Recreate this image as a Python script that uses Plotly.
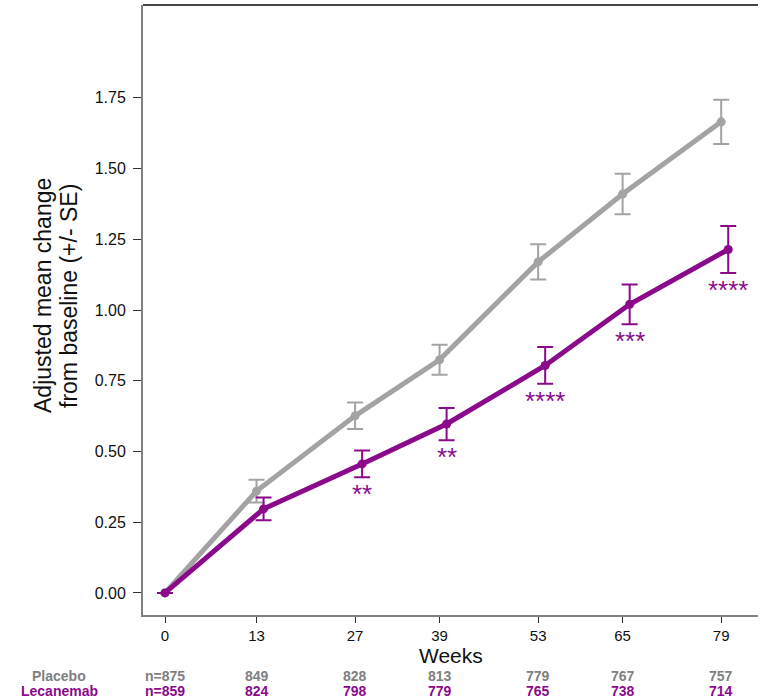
import plotly.graph_objects as go

# Study visits (weeks)
weeks = [0, 13, 27, 39, 53, 65, 79]

# Adjusted mean change from baseline and standard errors
placebo_mean = [0.0, 0.36, 0.626, 0.824, 1.17, 1.41, 1.665]
placebo_se = [0.0, 0.040, 0.047, 0.053, 0.062, 0.072, 0.078]
lecanemab_mean = [0.0, 0.297, 0.456, 0.597, 0.804, 1.02, 1.214]
lecanemab_se = [0.0, 0.040, 0.047, 0.057, 0.065, 0.070, 0.083]

# Significance markers for lecanemab vs placebo
lecanemab_sig = ["", "", "**", "**", "****", "***", "****"]

# Number of participants at each visit
placebo_n = ["n=875", "849", "828", "813", "779", "767", "757"]
lecanemab_n = ["n=859", "824", "798", "779", "765", "738", "714"]

GRAY = "#a3a3a3"
PURPLE = "#8b0a8b"
FONT = "Arial, Liberation Sans, sans-serif"

# small horizontal dodge so the two series' error bars don't overlap
dodge = 1.0
lec_x = [w + (dodge if w > 0 else 0) for w in weeks]

# plot area in pixels (used to place labels outside the axes)
L, T, B, H, W = 143, 5, 85, 700, 758
PW, PH = W - L, H - T - B


def px_x(px):
    return (px - L) / PW


def px_y(py):
    return (H - B - py) / PH


fig = go.Figure()

fig.add_trace(go.Scatter(
    x=weeks, y=placebo_mean, mode="lines+markers", name="Placebo",
    line=dict(color=GRAY, width=5), marker=dict(color=GRAY, size=9),
    error_y=dict(type="data", array=placebo_se, visible=True,
                 color=GRAY, thickness=2, width=8),
))
fig.add_trace(go.Scatter(
    x=lec_x, y=lecanemab_mean, mode="lines+markers", name="Lecanemab",
    line=dict(color=PURPLE, width=5), marker=dict(color=PURPLE, size=9),
    error_y=dict(type="data", array=lecanemab_se, visible=True,
                 color=PURPLE, thickness=2, width=8),
))

annotations = []
for x, m, se, s in zip(lec_x, lecanemab_mean, lecanemab_se, lecanemab_sig):
    if s:
        annotations.append(dict(
            x=x, y=m - se, xref="x", yref="y", text=s, showarrow=False,
            xanchor="center", yanchor="top", yshift=0,
            font=dict(family=FONT, size=26, color=PURPLE),
        ))

# participant counts table below the axis
row_y = {"placebo": px_y(676), "lecanemab": px_y(691)}
tbl_font = 14
for w, pn, ln in zip(weeks, placebo_n, lecanemab_n):
    annotations.append(dict(x=w, y=row_y["placebo"], xref="x", yref="paper",
                            text=f"<b>{pn}</b>", showarrow=False, xanchor="center",
                            yanchor="middle",
                            font=dict(family=FONT, size=tbl_font, color="#808080")))
    annotations.append(dict(x=w, y=row_y["lecanemab"], xref="x", yref="paper",
                            text=f"<b>{ln}</b>", showarrow=False, xanchor="center",
                            yanchor="middle",
                            font=dict(family=FONT, size=tbl_font, color=PURPLE)))
annotations.append(dict(x=px_x(59), y=row_y["placebo"], xref="paper", yref="paper",
                        text="<b>Placebo</b>", showarrow=False, xanchor="center",
                        yanchor="middle",
                        font=dict(family=FONT, size=tbl_font, color="#808080")))
annotations.append(dict(x=px_x(59), y=row_y["lecanemab"], xref="paper", yref="paper",
                        text="<b>Lecanemab</b>", showarrow=False, xanchor="center",
                        yanchor="middle",
                        font=dict(family=FONT, size=tbl_font, color=PURPLE)))

# axis titles
annotations.append(dict(x=0.5, y=px_y(655), xref="paper", yref="paper", text="Weeks",
                        showarrow=False, xanchor="center", yanchor="middle",
                        font=dict(family=FONT, size=21, color="#111111")))
annotations.append(dict(x=px_x(43), y=px_y(296), xref="paper", yref="paper",
                        text="Adjusted mean change", showarrow=False, textangle=-90,
                        xanchor="center", yanchor="middle",
                        font=dict(family=FONT, size=23, color="#111111")))
annotations.append(dict(x=px_x(69), y=px_y(296), xref="paper", yref="paper",
                        text="from baseline (+/- SE)", showarrow=False, textangle=-90,
                        xanchor="center", yanchor="middle",
                        font=dict(family=FONT, size=23, color="#111111")))

fig.update_layout(
    width=W, height=H,
    margin=dict(l=L, r=0, t=T, b=B),
    paper_bgcolor="white", plot_bgcolor="white",
    showlegend=False,
    font=dict(family=FONT, color="#111111"),
    annotations=annotations,
    shapes=[dict(type="line", xref="paper", yref="paper", x0=0, x1=1, y0=1, y1=1,
                 line=dict(color="#444444", width=2))],
)
fig.update_xaxes(
    range=[-3.125, 84.23], tickvals=weeks, ticktext=[str(w) for w in weeks],
    showgrid=False, zeroline=False, showline=True, linecolor="#808080", linewidth=2,
    ticks="outside", ticklen=6, tickcolor="#333333", tickwidth=1,
    tickfont=dict(family=FONT, size=15, color="#111111"),
)
fig.update_yaxes(
    range=[-0.078, 2.078], tickvals=[0, 0.25, 0.5, 0.75, 1.0, 1.25, 1.5, 1.75],
    tickformat=".2f", showgrid=False, zeroline=False, showline=True,
    linecolor="#808080", linewidth=2, ticks="outside", ticklen=8,
    tickcolor="#333333", tickwidth=1, ticklabelstandoff=4,
    tickfont=dict(family=FONT, size=16, color="#111111"),
)

fig.write_html("out.html")
